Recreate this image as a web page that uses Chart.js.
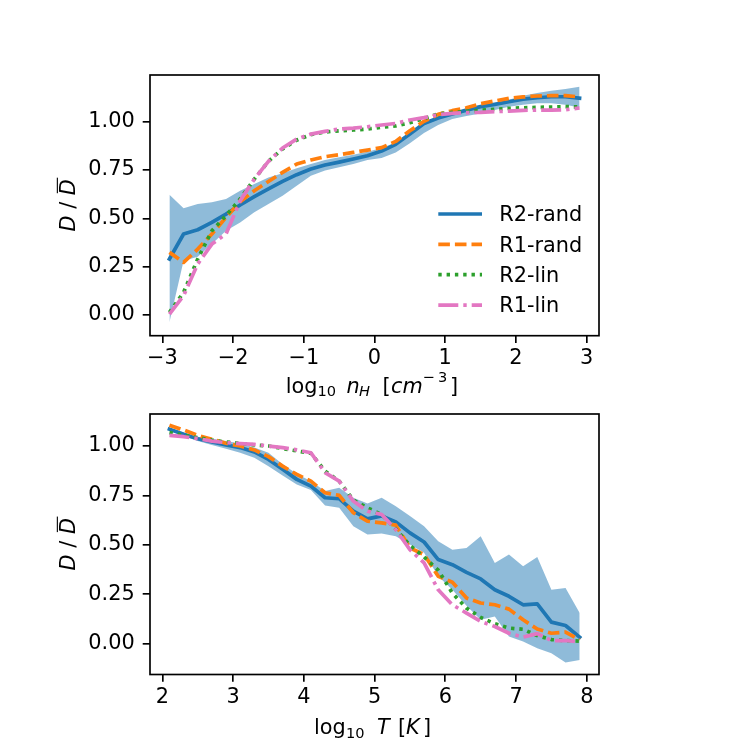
<!DOCTYPE html>
<html><head><meta charset="utf-8">
<script src="https://cdn.jsdelivr.net/npm/chart.js@4/dist/chart.umd.min.js"></script>
<style>
html,body{margin:0;padding:0;background:#fff;}
#wrap{position:relative;width:750px;height:750px;background:#fff;overflow:hidden;}
canvas{position:absolute;left:0;}
</style></head><body>
<div id="wrap">
<canvas id="c1" width="750" height="410" style="top:0"></canvas>
<canvas id="c2" width="750" height="360" style="top:390px"></canvas>
</div>
<script>
// ---------------- data: top panel (log10 n_H) ----------------
const nH = [-2.9,-2.7,-2.5,-2.3,-2.1,-1.9,-1.7,-1.5,-1.3,-1.1,-0.9,-0.7,-0.5,-0.3,-0.1,
            0.1,0.3,0.5,0.7,0.9,1.1,1.3,1.5,1.7,1.9,2.1,2.3,2.5,2.7,2.9];
const nH_R2rand    = [0.29,0.419,0.441,0.479,0.522,0.569,0.612,0.652,0.691,0.726,0.755,0.776,0.791,0.807,0.824,
                      0.848,0.883,0.936,0.991,1.019,1.04,1.06,1.078,1.09,1.103,1.117,1.124,1.129,1.129,1.122];
const nH_R2rand_hi = [0.622,0.552,0.574,0.583,0.6,0.643,0.678,0.712,0.733,0.759,0.781,0.802,0.816,0.829,0.845,
                      0.864,0.893,0.945,0.993,1.022,1.045,1.062,1.078,1.097,1.114,1.134,1.148,1.16,1.169,1.181];
const nH_R2rand_lo = [-0.038,0.281,0.302,0.367,0.436,0.479,0.531,0.574,0.617,0.669,0.72,0.747,0.764,0.781,0.802,
                      0.812,0.841,0.888,0.941,0.983,1.014,1.029,1.043,1.06,1.078,1.088,1.095,1.095,1.088,1.074];
const nH_R1rand    = [0.324,0.272,0.341,0.419,0.505,0.586,0.643,0.691,0.738,0.781,0.802,0.819,0.829,0.841,0.853,
                      0.866,0.898,0.953,1.002,1.038,1.057,1.072,1.093,1.107,1.121,1.128,1.133,1.135,1.135,1.128];
const nH_R2lin     = [0.014,0.117,0.29,0.436,0.514,0.6,0.703,0.795,0.859,0.905,0.933,0.947,0.953,0.957,0.962,
                      0.971,0.978,0.995,1.016,1.04,1.048,1.053,1.059,1.064,1.069,1.072,1.074,1.076,1.078,1.076];
const nH_R1lin     = [0.005,0.1,0.264,0.367,0.419,0.591,0.703,0.795,0.864,0.91,0.936,0.95,0.962,0.967,0.974,
                      0.983,0.991,1.009,1.021,1.036,1.043,1.047,1.048,1.052,1.055,1.059,1.06,1.06,1.062,1.071];
const nHTicks = [-3,-2,-1,0,1,2,3];

// ---------------- data: bottom panel (log10 T) ----------------
const logT = [2.1,2.3,2.5,2.7,2.9,3.1,3.3,3.5,3.7,3.9,4.1,4.3,4.5,4.7,4.9,
              5.1,5.3,5.5,5.7,5.9,6.1,6.3,6.5,6.7,6.9,7.1,7.3,7.5,7.7,7.9];
const T_R2rand    = [1.085,1.059,1.037,1.02,1.005,0.992,0.97,0.932,0.882,0.831,0.797,0.738,0.733,0.67,0.631,
                     0.646,0.616,0.56,0.514,0.425,0.399,0.36,0.327,0.272,0.239,0.196,0.201,0.108,0.091,0.032];
const T_R2rand_hi = [1.093,1.068,1.047,1.037,1.025,1.012,0.992,0.966,0.907,0.86,0.822,0.772,0.788,0.738,0.709,
                     0.738,0.695,0.645,0.594,0.518,0.475,0.484,0.543,0.408,0.45,0.391,0.438,0.272,0.281,0.154];
const T_R2rand_lo = [1.076,1.051,1.025,1.005,0.986,0.966,0.941,0.898,0.851,0.805,0.777,0.699,0.687,0.594,0.552,
                     0.557,0.543,0.501,0.459,0.34,0.272,0.191,0.12,0.137,0.036,0.01,-0.024,-0.049,-0.096,-0.083];
const T_R1rand    = [1.105,1.081,1.054,1.034,1.014,1.0,0.98,0.946,0.898,0.856,0.822,0.763,0.75,0.662,0.619,
                     0.611,0.599,0.484,0.45,0.34,0.31,0.23,0.205,0.196,0.174,0.12,0.073,0.052,0.058,0.019];
const T_R2lin     = [1.068,1.054,1.042,1.03,1.02,1.013,1.005,1.0,0.987,0.975,0.963,0.873,0.822,0.726,0.687,
                     0.653,0.58,0.496,0.438,0.371,0.255,0.179,0.132,0.1,0.078,0.072,0.04,0.02,0.015,0.012];
const T_R1lin     = [1.054,1.047,1.037,1.025,1.017,1.012,1.008,1.0,0.992,0.98,0.966,0.865,0.822,0.721,0.67,
                     0.653,0.577,0.475,0.408,0.272,0.196,0.154,0.112,0.086,0.052,0.032,0.05,0.015,0.015,0.008];
const logTTicks = [2,3,4,5,6,7,8];

const yTicks = [0,0.25,0.5,0.75,1.0];

// ---------------- styles ----------------
const FS = 20.83;
const FAM = '"DejaVu Sans", sans-serif';
const LW = 3.7;
const SPINE = 1.67;
const KEYS = ['R2rand','R1rand','R2lin','R1lin'];
const COLORS = {R2rand:'#1f77b4', R1rand:'#ff7f0e', R2lin:'#2ca02c', R1lin:'#e377c2'};
const DASH = {R2rand:[], R1rand:[11.6,5.0], R2lin:[3.4,4.9], R1lin:[20,5,3.4,5]};
const LABELS = {R2rand:'R2-rand', R1rand:'R1-rand', R2lin:'R2-lin', R1lin:'R1-lin'};
const BAND = 'rgba(31,119,180,0.5)';

function pts(xs, ys){ return xs.map((x,i)=>({x:x, y:ys[i]})); }
function lineDs(key, xs, ys, order){
  return {label: LABELS[key], legendKey: key, data: pts(xs,ys), borderColor: COLORS[key],
    backgroundColor: COLORS[key], borderWidth: LW, borderDash: DASH[key],
    borderCapStyle: key==='R2rand' ? 'square' : 'butt', borderJoinStyle:'round',
    pointRadius:0, pointHoverRadius:0, tension:0, fill:false, order:order};
}
function bandDs(xs, ys, fill, order){
  return {label:'', data: pts(xs,ys), borderWidth:0, borderColor:'rgba(0,0,0,0)',
    backgroundColor: BAND, pointRadius:0, tension:0, fill: fill, order: order};
}
function fmtX(v){ return v < 0 ? '\u2212' + Math.abs(v) : String(v); }

function drawSegments(ctx, cx, baseY, segs){
  segs.forEach(s => {
    ctx.font = (s.it ? 'italic ' : '') + (s.size||FS) + 'px ' + FAM;
    ctx.textAlign = 'left';
    ctx.textBaseline = 'alphabetic';
    ctx.fillText(s.t, cx + s.x, baseY + (s.dy||0));
  });
}

const decor = {
  id: 'decor',
  afterDraw(chart, args, o) {
    const ctx = chart.ctx, a = chart.chartArea;
    ctx.save();
    ctx.fillStyle = '#000';
    ctx.setLineDash([]);
    ctx.strokeStyle = '#000';
    ctx.lineWidth = SPINE;
    ctx.strokeRect(a.left, a.top, a.right - a.left, a.bottom - a.top);
    if (o.legend) {
      const items = chart.data.datasets.filter(d => d.legendKey)
        .sort((p,q) => KEYS.indexOf(p.legendKey) - KEYS.indexOf(q.legendKey));
      items.forEach((d, i) => {
        const y = o.legendY0 + i * o.legendDy;
        ctx.strokeStyle = d.borderColor;
        ctx.lineWidth = LW;
        ctx.lineCap = 'butt';
        ctx.setLineDash(d.borderDash);
        ctx.beginPath();
        ctx.moveTo(o.legendX0, y);
        ctx.lineTo(o.legendX1, y);
        ctx.stroke();
        ctx.setLineDash([]);
        ctx.font = FS + 'px ' + FAM;
        ctx.textAlign = 'left';
        ctx.textBaseline = 'alphabetic';
        ctx.fillStyle = '#000';
        ctx.fillText(d.label, o.legendTextX, y + 7.3);
      });
    }
    const cx = (a.left + a.right) / 2;
    ctx.fillStyle = '#000';
    drawSegments(ctx, cx, o.xlabelBase, o.xlabel);
    const cy = (a.top + a.bottom) / 2;
    ctx.translate(o.ylabelX, cy);
    ctx.rotate(-Math.PI / 2);
    ctx.font = 'italic ' + FS + 'px ' + FAM;
    const wD = ctx.measureText('D').width;
    ctx.font = FS + 'px ' + FAM;
    const wS = ctx.measureText(' / ').width;
    const total = wD * 2 + wS;
    let x0 = -total / 2;
    ctx.textAlign = 'left'; ctx.textBaseline = 'alphabetic';
    ctx.font = 'italic ' + FS + 'px ' + FAM;
    ctx.fillText('D', x0, 0);
    ctx.font = FS + 'px ' + FAM;
    ctx.fillText(' / ', x0 + wD, 0);
    ctx.font = 'italic ' + FS + 'px ' + FAM;
    const xd = x0 + wD + wS;
    ctx.fillText('D', xd, 0);
    ctx.fillRect(xd + 2, -18.2, wD - 0.5, 1.1);
    ctx.restore();
  }
};

function makeChart(id, H, xs, series, xr, yr, xTicks, area, deco){
  const ds = [
    lineDs('R1lin', xs, series.R1lin, 1),
    lineDs('R2lin', xs, series.R2lin, 2),
    lineDs('R1rand', xs, series.R1rand, 3),
    lineDs('R2rand', xs, series.R2rand, 4),
    bandDs(xs, series.hi, '+1', 5),
    bandDs(xs, series.lo, false, 6)
  ];
  const gridCfg = {display:true, drawOnChartArea:false, drawTicks:true, tickLength:7.3,
                   color:'#000', lineWidth:SPINE, tickColor:'#000', tickWidth:SPINE};
  return new Chart(document.getElementById(id), {
    type: 'line',
    data: { datasets: ds },
    options: {
      responsive:false, animation:false, devicePixelRatio:1,
      events: [],
      layout: { padding: { left:0, right: 750 - area.right, top: area.top, bottom: 0 } },
      plugins: { legend:{display:false}, tooltip:{enabled:false}, decor: deco },
      scales: {
        x: { type:'linear', position:'bottom', min: xr[0], max: xr[1],
             afterBuildTicks: s => { s.ticks = xTicks.map(v => ({value:v})); },
             afterFit: s => { s.height = H - area.bottom; },
             grid: gridCfg, border:{display:false},
             ticks: { autoSkip:false, maxRotation:0, padding:3, color:'#000',
                      font:{family:FAM, size:FS}, callback: v => fmtX(v) } },
        y: { type:'linear', position:'left', min: yr[0], max: yr[1],
             afterBuildTicks: s => { s.ticks = yTicks.map(v => ({value:v})); },
             afterFit: s => { s.width = area.left; },
             grid: gridCfg, border:{display:false},
             ticks: { autoSkip:false, padding:8, color:'#000',
                      font:{family:FAM, size:FS}, callback: v => v.toFixed(2) } }
      }
    },
    plugins: [decor]
  });
}

makeChart('c1', 410, nH,
  {R2rand:nH_R2rand, hi:nH_R2rand_hi, lo:nH_R2rand_lo, R1rand:nH_R1rand, R2lin:nH_R2lin, R1lin:nH_R1lin},
  [-3.175, 3.175], [-0.107, 1.2416], nHTicks,
  {left:150, right:599, top:75, bottom:335.7},
  {legend:true, legendX0:438.3, legendX1:482, legendTextX:499.3, legendY0:214, legendDy:30.35,
   xlabelBase:392.5, ylabelX:75,
   xlabel:[{t:'log',x:-88.8},{t:'10',x:-57,size:FS*0.7,dy:3.5},{t:'n',x:-28,it:true},
           {t:'H',x:-15.5,it:true,size:FS*0.7,dy:3.5},{t:'[',x:8},{t:'cm',x:16.5,it:true},
           {t:'\u2212',x:48,size:FS*0.7,dy:-11},{t:'3',x:63.5,size:FS*0.7,dy:-11},{t:']',x:75.5}]});

makeChart('c2', 360, logT,
  {R2rand:T_R2rand, hi:T_R2rand_hi, lo:T_R2rand_lo, R1rand:T_R1rand, R2lin:T_R2lin, R1lin:T_R1lin},
  [1.825, 8.173], [-0.157, 1.162], logTTicks,
  {left:150, right:599, top:24, bottom:284.5},
  {legend:false, xlabelBase:344, ylabelX:75,
   xlabel:[{t:'log',x:-60.5},{t:'10',x:-28.5,size:FS*0.7,dy:3.5},{t:'T',x:2.5,it:true},
           {t:'[',x:23.5},{t:'K',x:31.5,it:true},{t:']',x:48.5}]});
</script>
</body></html>
